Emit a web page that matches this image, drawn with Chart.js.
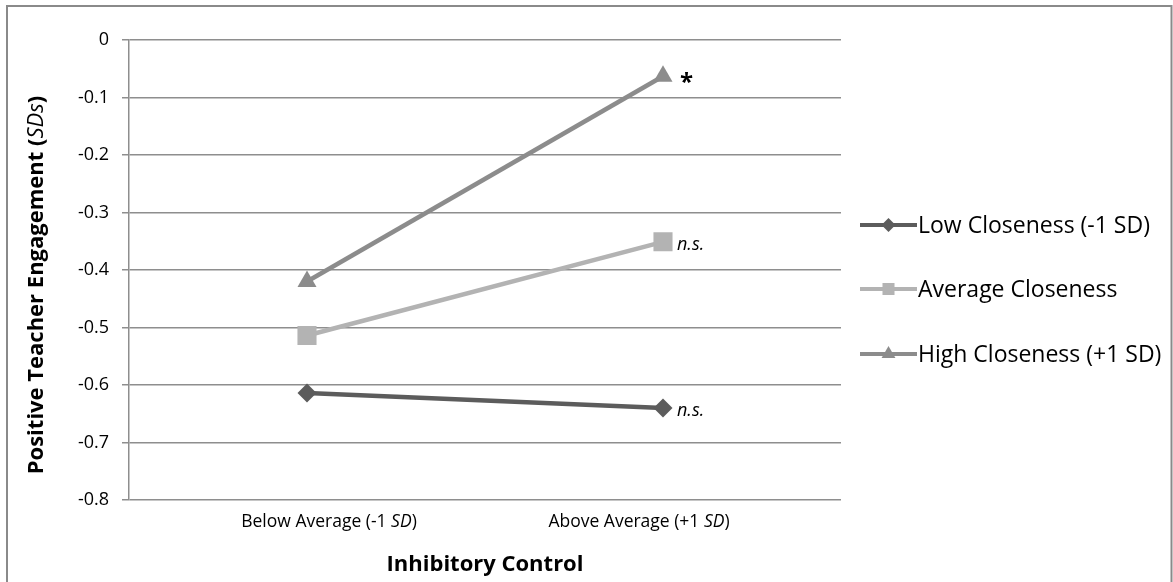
<!DOCTYPE html>
<html>
<head>
<meta charset="utf-8">
<script src="https://cdn.jsdelivr.net/npm/chart.js@4/dist/chart.umd.min.js"></script>
<style>
  html, body { margin: 0; padding: 0; background: #ffffff; }
  #wrap { width: 1173px; height: 582px; position: relative; }
</style>
</head>
<body>
<div id="wrap"><canvas id="c" width="1173" height="582"></canvas></div>
<script>
// ---- Data ----
const categoryMain = ['Below Average (-1 ', 'Above Average (+1 '];
const categoryItalic = ['SD', 'SD'];
const categoryTail = [')', ')'];
const seriesNames = ['Low Closeness (-1 SD)', 'Average Closeness', 'High Closeness (+1 SD)'];
const lowValues = [-0.614, -0.640];
const averageValues = [-0.514, -0.351];
const highValues = [-0.420, -0.063];
const yTickValues = [0, -0.1, -0.2, -0.3, -0.4, -0.5, -0.6, -0.7, -0.8];
const endAnnotations = ['n.s.', 'n.s.', '*'];
const yTitleMain = 'Positive Teacher Engagement (';
const yTitleItalic = 'SDs';
const yTitleTail = ')';
const xTitle = 'Inhibitory Control';

const colors = ['#5c5c5c', '#b3b3b3', '#8c8c8c'];
const styles = ['rectRot', 'rect', 'triangle'];
const radii = [9.5, 13.5, 11];
const allValues = [lowValues, averageValues, highValues];
const FONT = '"Open Sans", "Liberation Sans", sans-serif';

const categories = categoryMain.map((m, i) => m + categoryItalic[i] + categoryTail[i]);

function drawMarker(ctx, style, x, y, r, color) {
  ctx.save();
  ctx.fillStyle = color;
  ctx.beginPath();
  if (style === 'rectRot') {
    ctx.moveTo(x - r, y); ctx.lineTo(x, y - r); ctx.lineTo(x + r, y); ctx.lineTo(x, y + r);
  } else if (style === 'rect') {
    const s = r * Math.SQRT1_2;
    ctx.rect(x - s, y - s, 2 * s, 2 * s);
  } else {
    ctx.moveTo(x, y - r);
    ctx.lineTo(x + Math.sin(2 * Math.PI / 3) * r, y + r / 2);
    ctx.lineTo(x - Math.sin(2 * Math.PI / 3) * r, y + r / 2);
  }
  ctx.closePath();
  ctx.fill();
  ctx.restore();
}

function drawMixed(ctx, parts, x, y, align) {
  let total = 0;
  parts.forEach(p => { ctx.font = p.font; p.w = ctx.measureText(p.text).width; total += p.w; });
  let cx = align === 'center' ? x - total / 2 : x;
  parts.forEach(p => { ctx.font = p.font; ctx.fillText(p.text, cx, y); cx += p.w; });
}

const decorPlugin = {
  id: 'decor',
  beforeDraw(chart) {
    const ctx = chart.ctx;
    ctx.save();
    ctx.fillStyle = '#ffffff';
    ctx.fillRect(0, 0, chart.width, chart.height);
    ctx.strokeStyle = '#8a8a8a';
    ctx.lineWidth = 2;
    ctx.beginPath();
    ctx.moveTo(7, 582); ctx.lineTo(7, 6); ctx.lineTo(1171.5, 6); ctx.lineTo(1171.5, 582);
    ctx.stroke();
    ctx.restore();
  },
  afterDraw(chart) {
    const ctx = chart.ctx;
    const xs = chart.scales.x, ys = chart.scales.y;
    ctx.save();
    ctx.fillStyle = '#000000';
    ctx.textAlign = 'left';
    ctx.textBaseline = 'middle';
    // category labels (in the reference they sit slightly inward of the points)
    categories.forEach((c, i) => {
      const px = xs.getPixelForValue(i) + (i === 0 ? 22 : -24);
      drawMixed(ctx, [
        { text: categoryMain[i], font: '17.5px ' + FONT },
        { text: categoryItalic[i], font: 'italic 17.5px ' + FONT },
        { text: categoryTail[i], font: '17.5px ' + FONT }
      ], px, 522, 'center');
    });
    // x title
    drawMixed(ctx, [{ text: xTitle, font: 'bold 22px ' + FONT }], (chart.chartArea.left + chart.chartArea.right) / 2, 565, 'center');
    // y title (rotated)
    ctx.save();
    ctx.translate(37, 285);
    ctx.rotate(-Math.PI / 2);
    drawMixed(ctx, [
      { text: yTitleMain, font: 'bold 22px ' + FONT },
      { text: yTitleItalic, font: 'italic 22px ' + FONT },
      { text: yTitleTail, font: 'bold 22px ' + FONT }
    ], 0, 0, 'center');
    ctx.restore();
    // end annotations
    const last = categories.length - 1;
    allValues.forEach((vals, i) => {
      const px = xs.getPixelForValue(last);
      const py = ys.getPixelForValue(vals[last]);
      if (endAnnotations[i] === '*') {
        ctx.font = 'bold 24px ' + FONT;
        ctx.fillText(endAnnotations[i], px + 17, py + 7);
      } else {
        ctx.font = 'italic 18px ' + FONT;
        ctx.fillText(endAnnotations[i], px + 14, py + 3);
      }
    });
    // legend
    const rows = [225, 289, 354];
    const legendR = [7, 8.5, 8];
    seriesNames.forEach((name, i) => {
      const y = rows[i];
      ctx.strokeStyle = colors[i];
      ctx.lineWidth = 4;
      ctx.beginPath();
      ctx.moveTo(860, y); ctx.lineTo(917, y);
      ctx.stroke();
      drawMarker(ctx, styles[i], 888.5, y, legendR[i], colors[i]);
      ctx.fillStyle = '#000000';
      ctx.font = '23px ' + FONT;
      ctx.fillText(name, 918, y + 1);
    });
    ctx.restore();
  }
};

new Chart(document.getElementById('c'), {
  type: 'line',
  data: {
    labels: categories,
    datasets: allValues.map((vals, i) => ({
      label: seriesNames[i],
      data: vals,
      borderColor: colors[i],
      backgroundColor: colors[i],
      borderWidth: 4.5,
      pointStyle: styles[i],
      pointRadius: radii[i],
      pointHoverRadius: radii[i],
      pointBackgroundColor: colors[i],
      pointBorderColor: colors[i],
      pointBorderWidth: 0,
      tension: 0,
      order: 2 - i
    }))
  },
  options: {
    responsive: false,
    animation: false,
    events: [],
    layout: { padding: { left: 0, right: 332, top: 40, bottom: 0 } },
    plugins: { legend: { display: false }, tooltip: { enabled: false }, title: { display: false } },
    scales: {
      x: {
        type: 'category',
        offset: true,
        grid: { display: false, drawTicks: false },
        border: { display: false },
        ticks: { display: false },
        afterFit: s => { s.height = 82; }
      },
      y: {
        min: -0.8,
        max: 0,
        afterBuildTicks: s => { s.ticks = yTickValues.map(v => ({ value: v })); },
        ticks: {
          color: '#000000',
          font: { family: FONT, size: 18 },
          padding: 13,
          callback: v => (Math.abs(v) < 1e-9 ? '0' : v.toFixed(1))
        },
        grid: { color: '#8e8e8e', lineWidth: 1.5, tickLength: 7, tickColor: '#8e8e8e' },
        border: { display: true, color: '#8e8e8e', width: 1.5 },
        afterFit: s => { s.width = 129; }
      }
    }
  },
  plugins: [decorPlugin]
});
</script>
</body>
</html>
